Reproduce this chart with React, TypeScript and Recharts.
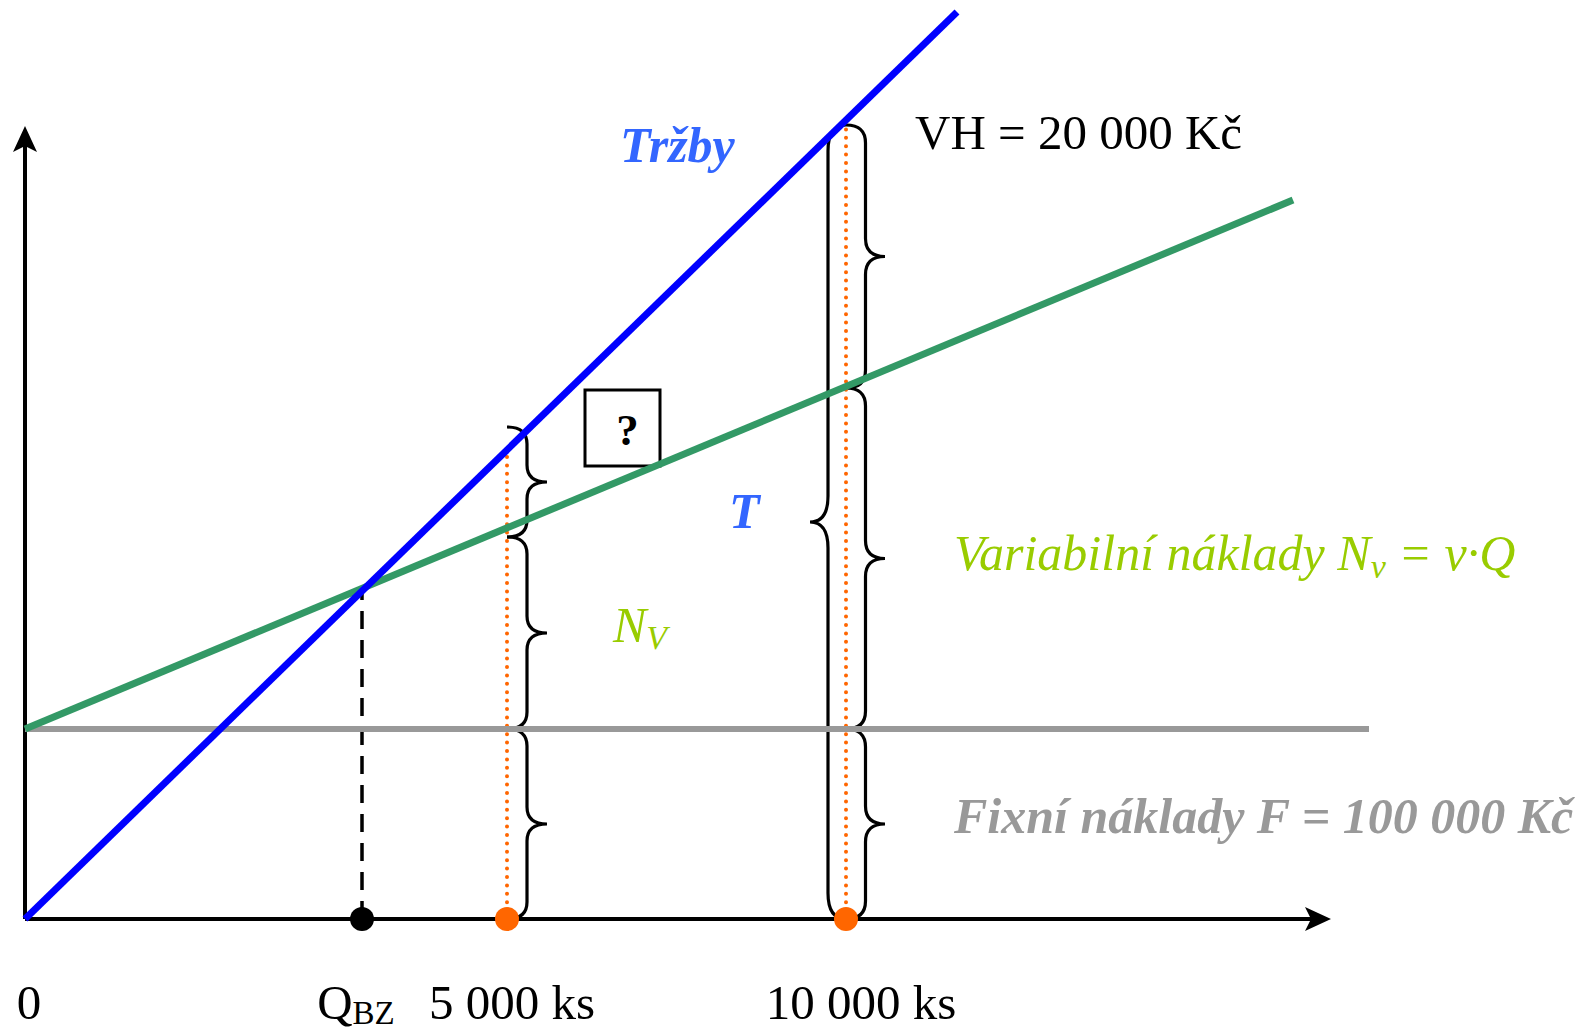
import React from 'react';
import {
  ComposedChart,
  Line,
  Scatter,
  XAxis,
  YAxis,
  ReferenceArea,
  ReferenceDot,
} from 'recharts';

// schematic break-even diagram: units are diagram positions, the picture is not to scale
const quantityMarks = [0, 337, 482, 821]; // 0, Q_BZ, 5 000 ks, 10 000 ks
const quantityLabels = ['0', 'Q', '5 000 ks', '10 000 ks'];

const fixedLevel = 190;
const revenue = [
  { q: 0, v: 0 },
  { q: 932, v: 907 },
];
const totalCost = [
  { q: 0, v: 190 },
  { q: 1268, v: 719 },
];
const fixedCost = [
  { q: 0, v: 190 },
  { q: 1344, v: 190 },
];
const breakEven = [
  { q: 337, v: 0 },
  { q: 337, v: 330 },
];
const drop5000 = [
  { q: 482, v: 0 },
  { q: 482, v: 469 },
];
const drop10000 = [
  { q: 821, v: 0 },
  { q: 821, v: 796 },
];
const breakEvenPoint = [{ q: 337, v: 0 }];
const volumePoints = [
  { q: 482, v: 0 },
  { q: 821, v: 0 },
];
const spans5000 = [
  [0, 190],
  [190, 382],
  [382, 492],
];
const spans10000 = [
  [0, 190],
  [190, 531],
  [531, 794],
];
const spanProfit10000 = [0, 794];

const xAxisLine = [
  { q: 0, v: 0 },
  { q: 1292, v: 0 },
];
const yAxisLine = [
  { q: 0, v: 0 },
  { q: 0, v: 780 },
];

const serif = '"Liberation Serif", "Times New Roman", serif';

function braceD(x: number, y: number, w: number, h: number, r: number, flip: boolean) {
  const s = flip ? -1 : 1;
  const x0 = flip ? x + w : x;
  const m = x0 + (s * w) / 2;
  const tip = x0 + s * w;
  const ym = y + h / 2;
  const y2 = y + h;
  return `M${x0},${y} Q${m},${y} ${m},${y + r} L${m},${ym - r} Q${m},${ym} ${tip},${ym} Q${m},${ym} ${m},${ym + r} L${m},${y2 - r} Q${m},${y2} ${x0},${y2}`;
}

const brace = (r: number, flip = false) => (p: any) => (
  <path
    d={braceD(p.x, p.y, p.width, p.height, r, flip)}
    fill="none"
    stroke="#000"
    strokeWidth={3.2}
  />
);

const arrowRight = (p: any) => (
  <path d={`M${p.cx},${p.cy} L${p.cx - 26},${p.cy - 12} L${p.cx - 20},${p.cy} L${p.cx - 26},${p.cy + 12} Z`} fill="#000" />
);
const arrowUp = (p: any) => (
  <path d={`M${p.cx},${p.cy} L${p.cx - 12},${p.cy + 26} L${p.cx},${p.cy + 20} L${p.cx + 12},${p.cy + 26} Z`} fill="#000" />
);

const text = (content: React.ReactNode, style: React.SVGProps<SVGTextElement>) => (p: any) => (
  <text x={p.cx} y={p.cy} fontFamily={serif} {...style}>
    {content}
  </text>
);

const tickShift = [4, -6, 5, 15];

function QuantityTick(props: any) {
  const i = quantityMarks.indexOf(props.payload.value);
  const x = props.x + tickShift[i];
  const y = props.y + 100;
  if (i === 1) {
    return (
      <text x={x} y={y} textAnchor="middle" fontFamily={serif} fontSize={49} fill="#000">
        {quantityLabels[i]}
        <tspan fontSize={33} dy={5}>BZ</tspan>
      </text>
    );
  }
  return (
    <text x={x} y={y} textAnchor="middle" fontFamily={serif} fontSize={49} fill="#000">
      {quantityLabels[i]}
    </text>
  );
}

const dot = (color: string) => (p: any) => <circle cx={p.cx} cy={p.cy} r={12} fill={color} />;

export default function App() {
  return (
    <div style={{ position: 'absolute', left: 0, top: 0, background: '#fff' }}>
      <ComposedChart width={1587} height={1030} margin={{ top: 0, right: 0, bottom: 0, left: 25 }}>
        <XAxis
          type="number"
          dataKey="q"
          domain={[0, 1562]}
          ticks={quantityMarks}
          interval={0}
          tick={<QuantityTick />}
          axisLine={false}
          tickLine={false}
          tickSize={0}
          tickMargin={0}
          height={111}
        />
        <YAxis type="number" dataKey="v" domain={[0, 919]} hide />

        <Line data={xAxisLine} dataKey="v" stroke="#000" strokeWidth={4} dot={false} isAnimationActive={false} />
        <Line data={yAxisLine} dataKey="v" stroke="#000" strokeWidth={4} dot={false} isAnimationActive={false} />
        <ReferenceDot x={1306} y={0} r={0} shape={arrowRight} />
        <ReferenceDot x={0} y={793} r={0} shape={arrowUp} />

        <Line data={drop5000} dataKey="v" stroke="#ff6600" strokeWidth={4} strokeDasharray="0 8.4" strokeLinecap="round" dot={false} isAnimationActive={false} />
        <Line data={drop10000} dataKey="v" stroke="#ff6600" strokeWidth={4} strokeDasharray="0 8.4" strokeLinecap="round" dot={false} isAnimationActive={false} />
        <Line data={breakEven} dataKey="v" stroke="#000" strokeWidth={3.5} strokeDasharray="18 11" dot={false} isAnimationActive={false} />

        <Line data={fixedCost} dataKey="v" stroke="#999999" strokeWidth={6} dot={false} isAnimationActive={false} />
        <Line data={totalCost} dataKey="v" stroke="#339966" strokeWidth={7} dot={false} isAnimationActive={false} />
        <Line data={revenue} dataKey="v" stroke="#0000ff" strokeWidth={7} dot={false} isAnimationActive={false} />

        <Scatter data={breakEvenPoint} dataKey="v" shape={dot('#000')} isAnimationActive={false} />
        <Scatter data={volumePoints} dataKey="v" shape={dot('#ff6600')} isAnimationActive={false} />

        {spans5000.map(([a, b], i) => (
          <ReferenceArea key={`b5-${i}`} x1={482} x2={522} y1={a} y2={b} shape={brace(17)} />
        ))}
        {spans10000.map(([a, b], i) => (
          <ReferenceArea key={`b10-${i}`} x1={821} x2={860} y1={a} y2={b} shape={brace(18)} />
        ))}
        <ReferenceArea x1={785} x2={821} y1={spanProfit10000[0]} y2={spanProfit10000[1]} shape={brace(26, true)} />

        <ReferenceArea
          x1={560}
          x2={635}
          y1={453}
          y2={529}
          shape={(p: any) => (
            <g>
              <rect x={p.x} y={p.y} width={p.width} height={p.height} fill="#fff" stroke="#000" strokeWidth={3} />
              <text x={p.x + p.width / 2 + 5} y={p.y + p.height / 2 + 17} textAnchor="middle" fontFamily={serif} fontWeight="bold" fontSize={45}>
                ?
              </text>
            </g>
          )}
        />

        <ReferenceDot x={595} y={757} r={0} shape={text('Tržby', { fontSize: 50, fontWeight: 'bold', fontStyle: 'italic', fill: '#3366ff' })} />
        <ReferenceDot x={890} y={770} r={0} shape={text('VH = 20 000 Kč', { fontSize: 49, fill: '#000' })} />
        <ReferenceDot x={704} y={391} r={0} shape={text('T', { fontSize: 50, fontWeight: 'bold', fontStyle: 'italic', fill: '#3366ff' })} />
        <ReferenceDot
          x={588}
          y={277}
          r={0}
          shape={text(
            <>
              N<tspan fontSize={34} dy={7}>V</tspan>
            </>,
            { fontSize: 50, fontStyle: 'italic', fill: '#99cc00' },
          )}
        />
        <ReferenceDot
          x={929}
          y={349}
          r={0}
          shape={text(
            <>
              Variabilní náklady N<tspan fontSize={34} dy={8}>v</tspan>
              <tspan dy={-8}> = v·Q</tspan>
            </>,
            { fontSize: 50, fontStyle: 'italic', fill: '#99cc00' },
          )}
        />
        <ReferenceDot
          x={929}
          y={fixedLevel - 104}
          r={0}
          shape={text('Fixní náklady F = 100 000 Kč', { fontSize: 50, fontWeight: 'bold', fontStyle: 'italic', fill: '#999999' })}
        />
      </ComposedChart>
    </div>
  );
}
